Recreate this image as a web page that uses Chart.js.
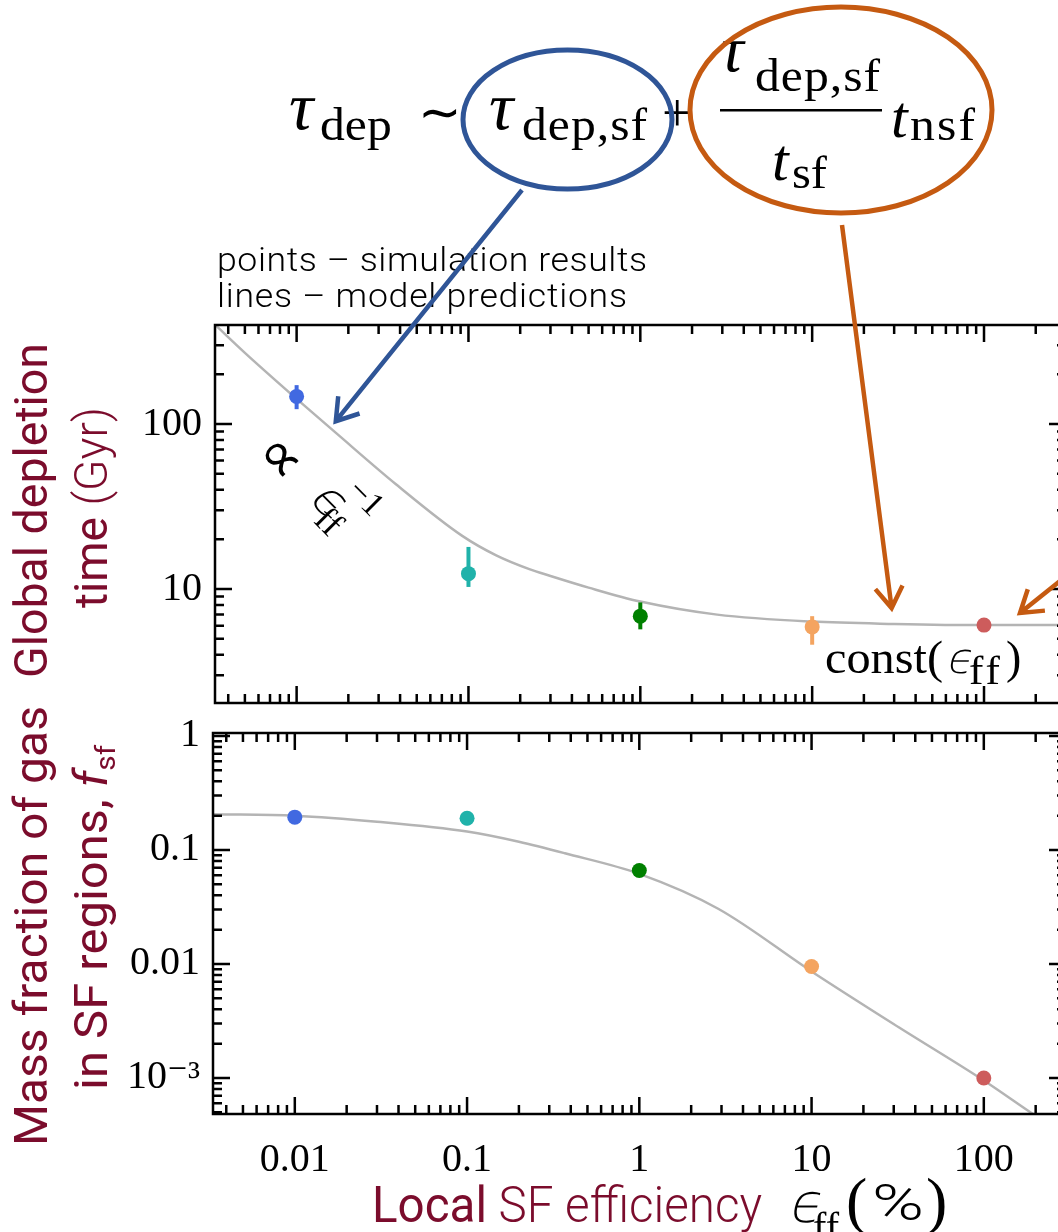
<!DOCTYPE html>
<html>
<head>
<meta charset="utf-8">
<title>Depletion time and SF gas fraction vs local SF efficiency</title>
<script src="https://cdn.jsdelivr.net/npm/chart.js@4.4.1/dist/chart.umd.min.js"></script>
<style>
  html, body { margin: 0; padding: 0; background: #fff; }
  body { width: 1058px; height: 1232px; overflow: hidden; position: relative; }
  canvas { position: absolute; left: 0; }
  #tdepChart { top: 0; }
  #fsfChart { top: 690px; }
</style>
</head>
<body>
<canvas id="tdepChart" width="1080" height="720"></canvas>
<canvas id="fsfChart" width="1080" height="542"></canvas>
<script>
// simulation runs: local SF efficiency per free-fall time (%)
const effPct = [0.01, 0.1, 1, 10, 100];
const pointColors = ['#4169e1', '#20b2aa', '#008000', '#f4a460', '#cd5c5c'];

// global depletion time (Gyr), with spread
const tdepSim  = [147, 12.4, 6.85, 5.9, 6.05];
const tdepLow  = [123, 10.3, 5.7, 4.6, 6.05];
const tdepHigh = [172, 18, 8.3, 6.85, 6.05];

// mass fraction of gas in SF regions
const fsfSim  = [0.194, 0.19, 0.066, 0.0095, 0.001];
const fsfLow  = [0.194, 0.165, 0.066, 0.0095, 0.001];
const fsfHigh = [0.194, 0.19, 0.066, 0.0095, 0.001];

// model predictions
const tdepModelEff = [0.00335, 0.005, 0.01, 0.017, 0.038, 0.092, 0.145, 0.226, 0.3, 0.5, 1, 2.8, 10, 30, 100, 300];
const tdepModel    = [400, 270, 142, 88, 43, 21, 16, 13.2, 12, 10.2, 8.4, 7, 6.35, 6.15, 6.05, 6.05];
const fsfModelEff  = [0.00335, 0.01, 0.03, 0.1, 0.2, 0.37, 1, 2.87, 10, 31.9, 100, 190, 300];
const fsfModel     = [0.206, 0.2, 0.177, 0.145, 0.118, 0.0935, 0.0617, 0.0305, 0.0086, 0.0028, 0.00095, 0.00049, 0.00031];

// axis ticks
const effTicks = [0.01, 0.1, 1, 10, 100];
const effTickLabels = ['0.01', '0.1', '1', '10', '100'];
const tdepTicks = [10, 100];
const tdepTickLabels = ['10', '100'];
const fsfTicks = [0.001, 0.01, 0.1, 1];
const fsfTickLabels = ['10\u207b\u00b3', '0.01', '0.1', '1'];

const maroon = '#7b0c2c';
const blue = '#2f5597';
const orange = '#c55a11';
const serif = '"Liberation Serif", "DejaVu Serif", serif';
const tickFont = { family: '"Liberation Serif", "DejaVu Serif", serif', size: 40 };

// text with left edge at x, baseline at y; an optional width is reached by a
// small stretch plus letter spacing when widening, by squeezing when narrowing
function fitText(ctx, str, font, x, y, w, color, stretch) {
  ctx.save();
  ctx.font = font;
  ctx.fillStyle = color || '#000';
  ctx.textAlign = 'left';
  ctx.textBaseline = 'alphabetic';
  const m = ctx.measureText(str).width;
  ctx.translate(x, y);
  if (w) {
    const k = stretch ? w / m : Math.min(w / m, 1.08);
    ctx.scale(k, 1);
    if (w > m * k + 0.5 && str.length > 1) ctx.letterSpacing = ((w / k - m) / (str.length - 1)) + 'px';
  }
  ctx.fillText(str, 0, 0);
  ctx.restore();
}

// lunate epsilon, thin and slanted
function epsilon(ctx, x, y, size) {
  ctx.save();
  ctx.translate(x, y);
  ctx.transform(1, 0, -0.22, 1, 0, 0);
  ctx.font = `200 ${size}px "DejaVu Sans"`;
  ctx.fillStyle = '#000';
  ctx.textBaseline = 'alphabetic';
  ctx.fillText('\u03f5', 0, 0);
  ctx.restore();
}

// several styled pieces on one baseline, fitted to a total width, optionally rotated
function drawRuns(ctx, runs, x, y, width, angle) {
  ctx.save();
  let total = 0;
  runs.forEach(r => { ctx.font = r.font; r.w = ctx.measureText(r.text).width; total += r.w; });
  ctx.translate(x, y);
  if (angle) ctx.rotate(angle);
  ctx.scale(width / total, 1);
  ctx.textAlign = 'left';
  ctx.textBaseline = 'alphabetic';
  let cx = 0;
  runs.forEach(r => {
    ctx.font = r.font;
    ctx.fillStyle = r.color || '#000';
    ctx.fillText(r.text, cx, r.dy || 0);
    cx += r.w;
  });
  ctx.restore();
}

function arrow(ctx, x0, y0, x1, y1, color) {
  const ang = Math.atan2(y0 - y1, x0 - x1);
  const len = 25, spread = 0.58;
  ctx.save();
  ctx.strokeStyle = color;
  ctx.lineWidth = 4.5;
  ctx.beginPath();
  ctx.moveTo(x0, y0);
  ctx.lineTo(x1, y1);
  ctx.moveTo(x1 + len * Math.cos(ang + spread), y1 + len * Math.sin(ang + spread));
  ctx.lineTo(x1, y1);
  ctx.lineTo(x1 + len * Math.cos(ang - spread), y1 + len * Math.sin(ang - spread));
  ctx.stroke();
  ctx.restore();
}

// decade + minor tick positions inside a log scale
function logSteps(scale) {
  const out = [];
  for (let e = Math.floor(Math.log10(scale.min)); e <= Math.ceil(Math.log10(scale.max)); e++) {
    for (let m = 1; m < 10; m++) {
      const v = m * Math.pow(10, e);
      if (v >= scale.min && v <= scale.max) out.push([v, m === 1]);
    }
  }
  return out;
}

// boxed frame with inward ticks on all four sides
const frameTicks = {
  id: 'frameTicks',
  afterDatasetsDraw(chart) {
    const { ctx, chartArea: a, scales } = chart;
    ctx.save();
    ctx.strokeStyle = '#000';
    ctx.lineWidth = 2.5;
    ctx.beginPath();
    logSteps(scales.x).forEach(([v, major]) => {
      const p = scales.x.getPixelForValue(v);
      const len = major ? 17 : 9;
      ctx.moveTo(p, a.bottom); ctx.lineTo(p, a.bottom - len);
      ctx.moveTo(p, a.top); ctx.lineTo(p, a.top + len);
    });
    logSteps(scales.y).forEach(([v, major]) => {
      const p = scales.y.getPixelForValue(v);
      const len = major ? 17 : 9;
      ctx.moveTo(a.left, p); ctx.lineTo(a.left + len, p);
      ctx.moveTo(a.right, p); ctx.lineTo(a.right - len, p);
    });
    ctx.stroke();
    ctx.strokeRect(a.left, a.top, a.right - a.left, a.bottom - a.top);
    ctx.restore();
  }
};

// vertical spread bars, drawn above the model line and below the points
function errorBars(low, high) {
  return {
    id: 'errorBars',
    afterDatasetDraw(chart, args) {
      if (args.index !== 1) return;
      const { ctx, scales: { x, y } } = chart;
      ctx.save();
      ctx.lineWidth = 4;
      effPct.forEach((e, i) => {
        if (low[i] === high[i]) return;
        const px = x.getPixelForValue(e);
        ctx.strokeStyle = pointColors[i];
        ctx.beginPath();
        ctx.moveTo(px, y.getPixelForValue(low[i]));
        ctx.lineTo(px, y.getPixelForValue(high[i]));
        ctx.stroke();
      });
      ctx.restore();
    }
  };
}

function fixedAxis(size, horizontal) {
  return s => {
    if (horizontal) s.height = size; else s.width = size;
    s.paddingLeft = 0; s.paddingRight = 0; s.paddingTop = 0; s.paddingBottom = 0;
  };
}

function pointSet(values) {
  return {
    data: effPct.map((x, i) => ({ x, y: values[i] })),
    backgroundColor: pointColors,
    borderColor: pointColors,
    borderWidth: 0,
    pointRadius: 7.5,
    pointHoverRadius: 7.5
  };
}

function modelSet(xs, ys) {
  return {
    type: 'line',
    data: xs.map((x, i) => ({ x, y: ys[i] })),
    borderColor: '#b4b4b4',
    borderWidth: 2.5,
    pointRadius: 0,
    fill: false,
    cubicInterpolationMode: 'monotone'
  };
}

const effMin = 0.00335, effMax = 300;

// equation, annotations and left title for the depletion-time panel
const tdepNotes = {
  id: 'tdepNotes',
  afterDraw(chart) {
    const { ctx, scales: { x, y } } = chart;

    // tau_dep ~ tau_dep,sf + tau_dep,sf / t_sf * t_nsf
    fitText(ctx, '\u03c4', `italic 68px ${serif}`, 289, 129);
    fitText(ctx, 'dep', `46px ${serif}`, 320, 140, 72);
    fitText(ctx, '\u223c', '52px "DejaVu Sans", "DejaVu Serif"', 418, 130);
    fitText(ctx, '\u03c4', `italic 68px ${serif}`, 489, 129);
    fitText(ctx, 'dep,sf', `46px ${serif}`, 522, 140, 125);
    fitText(ctx, '+', `54px ${serif}`, 662, 131);
    fitText(ctx, '\u03c4', `italic 66px ${serif}`, 720, 71);
    fitText(ctx, 'dep,sf', `46px ${serif}`, 755, 91, 125);
    ctx.fillStyle = '#000';
    ctx.fillRect(720, 109, 162, 2.5);
    fitText(ctx, 't', `italic 60px ${serif}`, 772, 180);
    fitText(ctx, 'sf', `46px ${serif}`, 792, 188, 35);
    fitText(ctx, 't', `italic 60px ${serif}`, 891, 137);
    fitText(ctx, 'nsf', `46px ${serif}`, 910, 140, 65);

    ctx.save();
    ctx.lineWidth = 5;
    ctx.strokeStyle = blue;
    ctx.beginPath();
    ctx.ellipse(567.5, 119.5, 104.5, 69.5, 0, 0, Math.PI * 2);
    ctx.stroke();
    ctx.strokeStyle = orange;
    ctx.beginPath();
    ctx.ellipse(841, 110, 151, 103, 0, 0, Math.PI * 2);
    ctx.stroke();
    ctx.restore();

    fitText(ctx, 'points \u2013 simulation results', '300 33px Roboto', 217, 271, 430);
    fitText(ctx, 'lines \u2013 model predictions', '300 33px Roboto', 217, 307, 410);

    // slope label along the rising branch
    ctx.save();
    ctx.translate(282, 460);
    ctx.rotate(Math.PI / 4);
    ctx.fillStyle = '#000';
    ctx.textBaseline = 'alphabetic';
    ctx.font = '60px "DejaVu Sans", "DejaVu Serif"';
    ctx.fillText('\u221d', -24, 18);
    epsilon(ctx, 46, 10, 48);
    ctx.font = `36px ${serif}`;
    ctx.fillText('ff', 65, 22);
    ctx.font = `34px ${serif}`;
    ctx.fillText('\u22121', 68, -22);
    ctx.restore();

    fitText(ctx, 'const(', `46px ${serif}`, 825, 673, 118);
    epsilon(ctx, 946, 673, 42);
    fitText(ctx, 'ff', `40px ${serif}`, 969, 684, 31);
    fitText(ctx, ')', `46px ${serif}`, 1006, 673);

    arrow(ctx, 522, 190, x.getPixelForValue(0.0169), y.getPixelForValue(104), blue);
    arrow(ctx, 842, 225, x.getPixelForValue(29), y.getPixelForValue(7.67), orange);
    arrow(ctx, 1080, 565, x.getPixelForValue(162), y.getPixelForValue(7.16), orange);

    const up = -Math.PI / 2;
    drawRuns(ctx, [{ text: 'Global depletion', font: '400 46px Roboto', color: maroon }], 47, 678, 335, up);
    drawRuns(ctx, [
      { text: 'time ', font: '400 46px Roboto', color: maroon },
      { text: '(Gyr)', font: '300 46px Roboto', color: maroon }
    ], 107, 608, 201, up);
  }
};

// left title and x title for the gas fraction panel (page coordinates)
const fsfNotes = {
  id: 'fsfNotes',
  afterDraw(chart) {
    const ctx = chart.ctx;
    ctx.save();
    ctx.translate(0, -690);
    const up = -Math.PI / 2;
    drawRuns(ctx, [{ text: 'Mass fraction of gas', font: '400 46px Roboto', color: maroon }], 47, 1146, 440, up);
    drawRuns(ctx, [
      { text: 'in SF regions, ', font: '400 46px Roboto', color: maroon },
      { text: 'f', font: 'italic 400 46px Roboto', color: maroon },
      { text: 'sf', font: '400 28px Roboto', color: maroon, dy: 8 }
    ], 107, 1090, 345, up);

    drawRuns(ctx, [
      { text: 'Local', font: '400 50px Roboto', color: maroon },
      { text: ' SF efficiency', font: '300 50px Roboto', color: maroon }
    ], 372, 1222, 390);
    epsilon(ctx, 788, 1222, 54);
    fitText(ctx, 'ff', `40px ${serif}`, 813, 1240, 26);
    fitText(ctx, '(', `64px ${serif}`, 846, 1222);
    fitText(ctx, '%', '300 50px Roboto', 872, 1220, 52, '#000', true);
    fitText(ctx, ')', `64px ${serif}`, 926, 1222);
    ctx.restore();
  }
};

const baseOptions = {
  responsive: false,
  animation: false,
  events: [],
  plugins: { legend: { display: false }, tooltip: { enabled: false } }
};

new Chart(document.getElementById('tdepChart'), {
  type: 'scatter',
  data: { datasets: [pointSet(tdepSim), modelSet(tdepModelEff, tdepModel)] },
  options: {
    ...baseOptions,
    layout: { padding: { left: 0, top: 325, right: 14, bottom: 0 } },
    scales: {
      x: {
        type: 'logarithmic', min: effMin, max: effMax,
        grid: { display: false, drawTicks: false }, border: { display: false },
        ticks: { display: false },
        afterFit: fixedAxis(17, true)
      },
      y: {
        type: 'logarithmic', min: 2.04, max: 398,
        grid: { display: false, drawTicks: false }, border: { display: false },
        ticks: { font: tickFont, color: '#000', padding: 13, autoSkip: false, callback: (v, i) => tdepTickLabels[i] },
        afterBuildTicks: s => { s.ticks = tdepTicks.map(v => ({ value: v })); },
        afterFit: fixedAxis(215, false)
      }
    }
  },
  plugins: [errorBars(tdepLow, tdepHigh), frameTicks, tdepNotes]
});

new Chart(document.getElementById('fsfChart'), {
  type: 'scatter',
  data: { datasets: [pointSet(fsfSim), modelSet(fsfModelEff, fsfModel)] },
  options: {
    ...baseOptions,
    layout: { padding: { left: 0, top: 43, right: 14, bottom: 0 } },
    scales: {
      x: {
        type: 'logarithmic', min: effMin, max: effMax,
        grid: { display: false, drawTicks: false }, border: { display: false },
        ticks: { font: tickFont, color: '#000', padding: 22, autoSkip: false, maxRotation: 0, callback: (v, i) => effTickLabels[i] },
        afterBuildTicks: s => { s.ticks = effTicks.map(v => ({ value: v })); },
        afterFit: fixedAxis(118, true)
      },
      y: {
        type: 'logarithmic', min: 4.83e-4, max: 1.062,
        grid: { display: false, drawTicks: false }, border: { display: false },
        ticks: { font: tickFont, color: '#000', padding: 13, autoSkip: false, callback: (v, i) => fsfTickLabels[i] },
        afterBuildTicks: s => { s.ticks = fsfTicks.map(v => ({ value: v })); },
        afterFit: fixedAxis(213, false)
      }
    }
  },
  plugins: [errorBars(fsfLow, fsfHigh), frameTicks, fsfNotes]
});
</script>
</body>
</html>
